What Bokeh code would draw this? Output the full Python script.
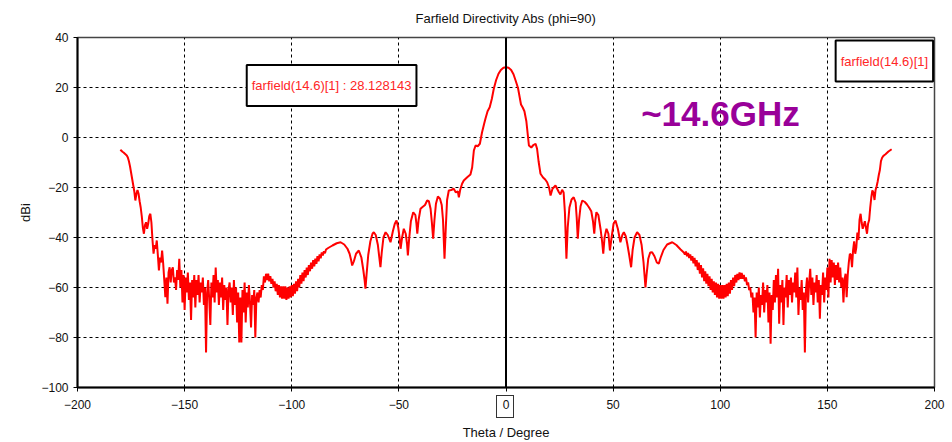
import numpy as np
from bokeh.plotting import figure
from bokeh.layouts import column
from bokeh.models import Range1d, FixedTicker, Span, Label, ColumnDataSource, Div
from bokeh.embed import file_html
from bokeh.resources import INLINE

# ---- far-field cut, phi = 90 deg, 14.6 GHz ----
peak_dbi = 28.128143

# left back-lobe edge, -180 .. -152.5 deg (0.5 deg steps)
theta_edge_l = np.arange(-180.0, -152.0, 0.5)
dbi_edge_l = [
    -4.9, -5.3, -5.7, -6.0, -6.4, -6.8, -7.2, -8.0, -9.5, -11.5,
    -14.0, -16.5, -19.0, -21.5, -25.2, -22.5, -21.0, -22.5, -25.5, -28.0,
    -31.5, -36.0, -38.5, -35.0, -33.9, -36.5, -34.5, -31.5, -30.5, -34.0,
    -41.0, -46.5, -43.0, -44.5, -41.2, -47.0, -53.2, -48.0, -50.0, -45.2,
    -50.5, -57.0, -63.9, -56.0, -66.5, -54.0, -51.9, -58.0, -53.0, -51.9,
    -58.0, -55.9, -61.0, -53.0, -57.0, -48.5,
]

# left noise floor, -152 .. -115.5 deg
theta_floor_l = np.arange(-152.0, -115.0, 0.5)
dbi_floor_l = [
    -60, -53, -66, -55, -69, -56, -62, -54, -65, -58,
    -73, -57, -64, -55, -68, -57, -63, -55, -66, -58,
    -62, -56, -67, -60, -86, -62, -57, -65, -75, -58,
    -64, -55, -66, -52, -62, -57, -67, -58, -64, -56,
    -69, -59, -65, -60, -75, -61, -58, -66, -60, -71,
    -57, -67, -60, -74, -62, -82, -64, -82, -61, -70,
    -58, -74, -62, -68, -59, -66, -76, -63, -67, -61,
    -80, -64, -62, -66,
]

# left hump and rippled band, -115 .. -84 deg
theta_band_l = np.arange(-115.0, -83.5, 0.5)
dbi_band_l = [
    -61, -64, -59, -61, -55.5, -58, -54.5, -57, -54.5, -57.5,
    -55.5, -58.5, -56.5, -60, -57.5, -61.5, -58.5, -63, -59, -64,
    -59.5, -64.5, -59.5, -64.5, -59.5, -65, -60, -64.5, -59.5, -64,
    -59, -63.5, -58.5, -62.5, -57.5, -61.5, -56.5, -60, -55, -58.5,
    -54, -57.5, -53, -56, -52, -55, -51, -53.5, -50, -52.5,
    -49, -51.5, -48.5, -50.5, -47.5, -49.5, -46.8, -48.3, -46, -47.2,
    -45.5, -46.3, -44.8,
]

# left side lobes up to boresight
theta_lobes_l = [
    -83, -81, -79, -77.2, -75.5, -74, -73, -72.3, -71.8, -71,
    -70, -68.7, -67.5, -66.6, -66, -65.6, -65.1, -64.3, -63.3, -62.3,
    -61.7, -60.8, -59.8, -59.2, -58.6, -58, -57.2, -56.2, -55.2, -53.9,
    -52.8, -51.9, -51.1, -50.3, -49.7, -49.2, -48.5, -47.7, -46.8, -46.2,
    -45.8, -45.2, -44.4, -43.3, -42.3, -41.8, -41.4, -40.8, -39.9, -39.1,
    -37.8, -36.8, -36, -35.2, -34.6, -34, -33.4, -32.7, -31.8, -30.8,
    -30, -29.4, -28.7, -28.1, -27.5, -26.7, -25.6, -24.4, -23.4, -22.5,
    -22, -21.4, -20.5, -19.7, -18.1, -16.6, -15.8, -15, -14.2, -13.2,
    -12.2, -11.2, -10.2, -9.6, -8.6, -7.6, -6.6, -5.7, -4.6, -3.5,
    -2.4, -1.2, 0,
]
dbi_lobes_l = [
    -44.2, -43.2, -42.3, -41.9, -42.8, -44.5, -46.5, -49.0, -51.2, -49.5,
    -46.5, -45.2, -48.0, -53.0, -57.0, -60.5, -55.0, -47.0, -41.5, -38.5,
    -37.9, -39.0, -43.0, -47.5, -51.9, -46.0, -40.0, -37.9, -39.0, -41.9,
    -37.5, -34.5, -33.2, -36.0, -40.0, -44.5, -40.0, -36.5, -38.5, -42.5,
    -47.2, -40.5, -33.5, -29.9, -31.0, -34.5, -38.5, -33.0, -28.5, -27.9,
    -27.0, -25.2, -25.5, -28.5, -34.0, -40.5, -33.0, -26.5, -23.6, -24.5,
    -27.0, -33.0, -48.5, -36.0, -25.0, -21.2, -21.0, -20.5, -22.0, -21.5,
    -23.9, -21.0, -18.5, -17.2, -15.9, -14.8, -12.0, -5.2, -3.2, -3.5,
    -2.5, 2.0, 5.5, 7.5, 10.5, 12.1, 15.5, 19.5, 23.0, 25.5,
    27.0, 27.9, peak_dbi,
]

# right side lobes after boresight
theta_lobes_r = [
    1.2, 2.4, 3.5, 4.6, 5.6, 6.3, 7.0, 7.8, 8.6, 9.5,
    10.7, 11.8, 12.8, 13.8, 14.5, 15.2, 16.1, 17.3, 18.3, 19.2,
    20.1, 20.8, 21.7, 23.1, 24.7, 25.4, 26.2, 26.9, 27.5, 28.2,
    28.8, 29.6, 30.6, 31.6, 32.5, 33, 33.5, 34.1, 34.8, 35.6,
    36.8, 37.8, 38.7, 39.8, 40.6, 41.2, 41.7, 42.2, 43.1, 44.2,
    44.9, 45.4, 46.0, 46.9, 47.8, 48.5, 49.2, 50.2, 51.1, 52.2,
    53.4, 54.3, 55.0, 55.9, 56.6, 57.5, 58.4, 59.1, 60.0, 61.2,
    62.3, 63.3, 64.2, 64.7, 65.1, 65.6, 66.4, 67.3, 68.2, 69.3,
    70.4, 71.3, 72.2, 73.5, 75.2, 77.6, 79.5, 81.5, 83,
]
dbi_lobes_r = [
    27.9, 27.0, 25.3, 22.5, 19.8, 16.5, 13.2, 12.0, 10.5, 6.5,
    -3.2, -4.0, -3.0, -2.5, -4.5, -9.5, -14.5, -16.0, -16.8, -17.9,
    -20.0, -23.2, -20.5, -19.2, -21.9, -22.8, -20.9, -22.0, -30.0, -48.5,
    -36.0, -28.0, -24.8, -23.9, -26.0, -32.0, -40.5, -33.0, -27.5, -25.2,
    -25.8, -26.8, -27.9, -29.5, -33.5, -38.5, -33.0, -29.9, -31.0, -37.0,
    -42.0, -46.5, -40.0, -36.5, -38.5, -45.2, -40.5, -34.5, -33.2, -36.5,
    -41.9, -39.0, -37.9, -39.5, -42.5, -47.0, -51.9, -45.0, -40.0, -37.9,
    -39.0, -43.0, -50.0, -55.5, -60.0, -55.0, -48.5, -46.0, -45.9, -47.5,
    -50.0, -50.5, -48.0, -45.0, -42.8, -41.9, -43.0, -44.8, -46.0,
]

# right rippled band and hump, 83.5 .. 114.5 deg
theta_band_r = np.arange(83.5, 115.0, 0.5)
dbi_band_r = [
    -46.8, -45.6, -47.5, -46.2, -48.2, -46.8, -49.2, -47.5, -50.3, -48.2,
    -51.5, -49, -53, -50, -54.5, -51, -56, -52.3, -57.5, -53.5,
    -58.5, -54.5, -59.5, -55.5, -61, -56.5, -62, -57.5, -63, -58,
    -64, -58.5, -64.5, -59, -64.5, -59, -64.5, -59, -64, -58.5,
    -63.5, -58, -62.5, -57, -61, -56, -59.5, -55, -58, -54.5,
    -57, -54, -56.5, -54.2, -56.5, -55, -57.5, -56, -59, -58,
    -61, -60, -64,
]

# right noise floor, 115 .. 151.5 deg
theta_floor_r = np.arange(115.0, 152.0, 0.5)
dbi_floor_r = [
    -62, -70, -64, -80, -62, -68, -60, -72, -63, -67,
    -58, -70, -61, -66, -59, -74, -62, -82.5, -63, -69,
    -57, -66, -55, -64, -52.5, -74.5, -59, -66, -57, -75,
    -60, -64, -55, -68, -57, -63, -56, -66, -58, -62,
    -54, -64, -52, -71, -60, -65, -57, -69, -62, -86,
    -61, -56, -66, -58, -52.5, -63, -56, -67, -58, -62,
    -55, -66, -57, -72.5, -59, -63, -54, -66, -56, -61,
    -52, -64, -48.5, -58,
]

# right back-lobe edge, 152 .. 180 deg
theta_edge_r = np.arange(152.0, 180.5, 0.5)
dbi_edge_r = [
    -49, -56, -50, -59, -51, -57, -50, -58, -52, -60,
    -56, -66, -57, -54.5, -63.9, -55, -50, -46.5, -47, -51.9,
    -45, -41.5, -46.5, -44, -38, -41, -33, -30.5, -34, -36.5,
    -35, -33.5, -36, -38.5, -34.5, -33, -28, -24, -21.2, -22,
    -25, -21, -19.5, -17.5, -15, -13, -9.5, -8.2, -7.5, -7.1,
    -6.8, -6.4, -6.0, -5.6, -5.3, -5.0, -4.7,
]

x_ticks = [-200, -150, -100, -50, 0, 50, 100, 150, 200]
y_ticks = [-100, -80, -60, -40, -20, 0, 20, 40]

theta = np.concatenate([theta_edge_l, theta_floor_l, theta_band_l, theta_lobes_l,
                        theta_lobes_r, theta_band_r, theta_floor_r, theta_edge_r])
dbi = np.concatenate([dbi_edge_l, dbi_floor_l, dbi_band_l, dbi_lobes_l,
                      dbi_lobes_r, dbi_band_r, dbi_floor_r, dbi_edge_r])
source = ColumnDataSource(data=dict(theta=theta, dbi=dbi))

FONT = "Liberation Sans"
INK = "#111111"

p = figure(width=952, height=442, output_backend="svg", toolbar_location=None,
           x_range=Range1d(-200, 200), y_range=Range1d(-100, 40),
           min_border_left=77, min_border_right=18, min_border_top=37,
           min_border_bottom=55, title="Farfield Directivity Abs (phi=90)")

p.title.align = "center"
p.title.vertical_align = "top"
p.title.standoff = 20
p.title.text_font = FONT
p.title.text_font_size = "13px"
p.title.text_font_style = "normal"
p.title.text_color = INK

p.background_fill_color = "white"
p.border_fill_color = "white"
p.outline_line_color = "#444444"
p.outline_line_width = 1.5

xax = p.xaxis[0]
yax = p.yaxis[0]
xax.ticker = FixedTicker(ticks=x_ticks)
yax.ticker = FixedTicker(ticks=y_ticks)
xax.axis_label = "Theta / Degree"
yax.axis_label = "dBi"
for ax in (xax, yax):
    ax.axis_line_color = "black"
    ax.axis_line_width = 2
    ax.major_tick_line_color = "black"
    ax.major_tick_out = 4
    ax.major_tick_in = 0
    ax.minor_tick_line_color = None
    ax.major_label_text_font = FONT
    ax.major_label_text_font_size = "12px"
    ax.major_label_text_color = INK
    ax.axis_label_text_font = FONT
    ax.axis_label_text_font_size = "13px"
    ax.axis_label_text_font_style = "normal"
    ax.axis_label_text_color = INK
xax.major_label_standoff = 8
yax.major_label_standoff = 5
xax.axis_label_standoff = 13
yax.axis_label_standoff = 5

for g in (p.xgrid, p.ygrid):
    g.grid_line_color = "black"
    g.grid_line_dash = "3 3"
    g.grid_line_width = 1

p.line("theta", "dbi", source=source, line_color="#ff0000", line_width=2)

# marker at boresight
p.add_layout(Span(location=0, dimension="height", line_color="black", line_width=2))

# marker readout
p.add_layout(Label(x=-81.4, y=20.8, text=f"farfield(14.6)[1] : {peak_dbi}",
                   text_align="center", text_baseline="middle",
                   text_font=FONT, text_font_size="13px", text_color="#ff2626",
                   border_line_color="black", border_line_width=2,
                   background_fill_color="white", padding=(5, 13)))

# legend entry
p.add_layout(Label(x=176.6, y=30.6, text="farfield(14.6)[1]",
                   text_align="center", text_baseline="middle",
                   text_font=FONT, text_font_size="13px", text_color="#ff2626",
                   border_line_color="black", border_line_width=2,
                   background_fill_color="white", padding=(5, 13)))

# frequency tag
p.add_layout(Label(x=100.1, y=9.6, text="~14.6GHz",
                   text_align="center", text_baseline="middle",
                   text_font=FONT, text_font_size="35px", text_font_style="bold",
                   text_color="#990099"))

# thin frame around the marker's "0" tick label, laid over the axis area
zero_frame = Div(text="", width=18, height=23, margin=(-47, 0, 0, 496),
                 styles={"border": "1px solid #333333", "box-sizing": "border-box",
                         "position": "relative", "z-index": "10",
                         "background": "transparent"})

layout = column(p, zero_frame, spacing=0)

open("out.html", "w").write(file_html(layout, INLINE))
